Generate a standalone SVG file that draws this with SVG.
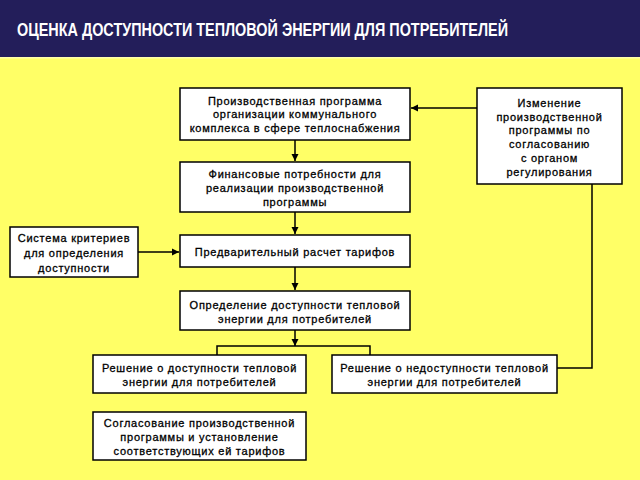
<svg xmlns="http://www.w3.org/2000/svg" width="640" height="480" viewBox="0 0 640 480">
<defs>
<marker id="ah" markerWidth="8" markerHeight="8" refX="7" refY="4" orient="auto" markerUnits="userSpaceOnUse">
<path d="M0,0.5 L7,4 L0,7.5 Z" fill="#000"/>
</marker>
<style>
.box{fill:#fff;stroke:#000;stroke-width:1.5}
.t{font-family:"Liberation Sans",Arial,sans-serif;font-size:11px;fill:#000;stroke:#000;stroke-width:0.3px;text-anchor:middle;letter-spacing:0.75px}
.c{fill:none;stroke:#000;stroke-width:1.5}
</style>
</defs>
<rect x="0" y="0" width="640" height="480" fill="#FFFF66"/>
<rect x="0" y="0" width="640" height="57" fill="#231E5A"/>
<rect x="0" y="57" width="640" height="1.5" fill="#FFFFA8"/>
<text x="17" y="36" font-family="Liberation Sans,Arial,sans-serif" font-size="18" font-weight="bold" fill="#fff" textLength="491" lengthAdjust="spacingAndGlyphs">ОЦЕНКА ДОСТУПНОСТИ ТЕПЛОВОЙ ЭНЕРГИИ ДЛЯ ПОТРЕБИТЕЛЕЙ</text>

<g id="connectors">
<line class="c" x1="477" y1="108" x2="411" y2="108" marker-end="url(#ah)"/>
<polyline class="c" points="592,184 592,368 557,368"/>
<line class="c" x1="295" y1="140" x2="295" y2="161" marker-end="url(#ah)"/>
<line class="c" x1="295" y1="212" x2="295" y2="234" marker-end="url(#ah)"/>
<line class="c" x1="138" y1="252" x2="179" y2="252" marker-end="url(#ah)"/>
<line class="c" x1="295" y1="267" x2="295" y2="290" marker-end="url(#ah)"/>
<line class="c" x1="295" y1="330" x2="295" y2="346" marker-end="url(#ah)"/>
<polyline class="c" points="217,355 217,346 370,346 370,355"/>
</g>

<g id="n1"><rect class="box" x="180" y="88" width="230" height="52"/>
<text class="t" x="295" y="105">Производственная программа</text>
<text class="t" x="295" y="118">организации коммунального</text>
<text class="t" x="295" y="132">комплекса в сфере теплоснабжения</text></g>

<g id="n2"><rect class="box" x="180" y="162" width="230" height="50"/>
<text class="t" x="295" y="178">Финансовые потребности для</text>
<text class="t" x="295" y="192">реализации производственной</text>
<text class="t" x="295" y="206">программы</text></g>

<g id="n3"><rect class="box" x="477" y="88" width="145" height="96"/>
<text class="t" x="549.5" y="107">Изменение</text>
<text class="t" x="549.5" y="121">производственной</text>
<text class="t" x="549.5" y="134">программы по</text>
<text class="t" x="549.5" y="148">согласованию</text>
<text class="t" x="549.5" y="162">с органом</text>
<text class="t" x="549.5" y="176">регулирования</text></g>

<g id="n4"><rect class="box" x="10" y="227" width="128" height="50"/>
<text class="t" x="74" y="242">Система критериев</text>
<text class="t" x="74" y="257">для определения</text>
<text class="t" x="74" y="272">доступности</text></g>

<g id="n5"><rect class="box" x="180" y="235" width="230" height="32"/>
<text class="t" x="295" y="256">Предварительный расчет тарифов</text></g>

<g id="n6"><rect class="box" x="180" y="291" width="230" height="39"/>
<text class="t" x="295" y="309">Определение доступности тепловой</text>
<text class="t" x="295" y="323">энергии для потребителей</text></g>

<g id="n7"><rect class="box" x="93" y="355" width="213" height="38"/>
<text class="t" x="199.5" y="372">Решение о доступности тепловой</text>
<text class="t" x="199.5" y="386">энергии для потребителей</text></g>

<g id="n8"><rect class="box" x="332" y="355" width="225" height="38"/>
<text class="t" x="444.5" y="372">Решение о недоступности тепловой</text>
<text class="t" x="444.5" y="386">энергии для потребителей</text></g>

<g id="n9"><rect class="box" x="93" y="412" width="213" height="48"/>
<text class="t" x="199.5" y="427">Согласование производственной</text>
<text class="t" x="199.5" y="441">программы и установление</text>
<text class="t" x="199.5" y="455">соответствующих ей тарифов</text></g>
</svg>
